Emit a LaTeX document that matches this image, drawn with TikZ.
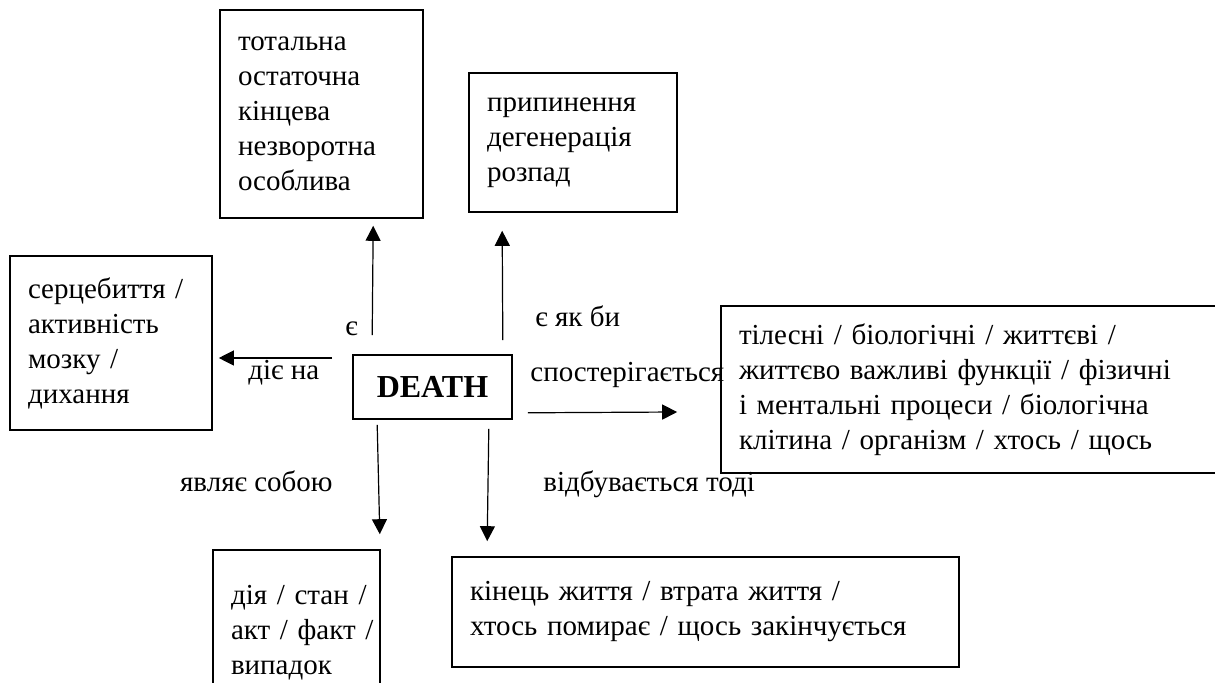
\documentclass[tikz,border=0pt]{standalone}
\usepackage{fontspec}
\setmainfont{Liberation Serif}
\usetikzlibrary{arrows.meta,calc}

\begin{document}
\begin{tikzpicture}[x=0.5pt,y=-0.5pt,
    every node/.style={font=\fontsize{14.5}{17.5}\selectfont},
    wbox/.style={draw,line width=0.8pt,inner xsep=9pt,inner ysep=0pt,align=left},
    lbl/.style={anchor=base west,inner sep=0pt},
    arr/.style={line width=0.6pt,-{Triangle[length=7.5pt,width=7.5pt]}}]
        \useasboundingbox (0,0) rectangle (1215,683);
        \clip (0,0) rectangle (1215,683);
        % centre
        \node[wbox,minimum width=79.5pt,minimum height=32pt,font=\fontsize{16}{18}\selectfont\bfseries] (death) at (432.5,387) {DEATH};
        % boxes round it
        \node[wbox,text width=83.5pt,minimum height=104pt] (kind) at (321.5,114) {тотальна\\остаточна\\кінцева\\незворотна\\особлива};
        \node[wbox,text width=86pt,minimum height=69.5pt] (decay) at (573,142.5) {припинення\\дегенерація\\розпад};
        \node[wbox,text width=83pt,minimum height=87pt] (vital) at (111,343) {серцебиття /\\активність\\мозку /\\дихання};
        \node[wbox,text width=241.5pt,minimum height=83.5pt] (body) at (980.5,389.5) {тілесні / біологічні / життєві /\\життєво важливі функції / фізичні\\і ментальні процеси / біологічна\\клітина / організм / хтось / щось};
        \node[wbox,text width=65.5pt,minimum height=83pt] (state) at (296.5,633) {дія~/~стан~/\\акт~/~факт~/\\випадок};
        \node[wbox,text width=235.5pt,minimum height=55pt] (end) at (705.5,612) {кінець життя / втрата життя /\\хтось помирає / щось закінчується};
        % arrows
        \draw[arr] ($(death.north west)+(20,-19)$) -- ($(kind.south west)+(154,7)$);
        \draw[arr] ($(death.north east)+(-10,-14)$) -- ($(decay.south west)+(34,18)$);
        \draw[arr] ($(death.west)+(-20,-29)$) -- ($(vital.east)+(6,15)$);
        \draw[arr] ($(death.south east)+(15,-7)$) -- ($(body.west)+(-43,22.5)$);
        \draw[arr] ($(death.south west)+(25,5)$) -- ($(state.north east)+(-1,-15)$);
        \draw[arr] ($(death.south east)+(-24,9)$) -- ($(end.north west)+(36,-15)$);
        % labels
        \node[lbl] (l1) at (345,336) {є};
        \node[lbl] (l2) at (535,327) {є як би};
        \node[lbl] (l3) at (248,380) {діє на};
        \node[lbl] (l4) at (530,382) {спостерігається};
        \node[lbl,anchor=base east] (l5) at (333,492) {являє собою};
        \node[lbl] (l6) at (543,492) {відбувається тоді};
      \end{tikzpicture}
\end{document}
